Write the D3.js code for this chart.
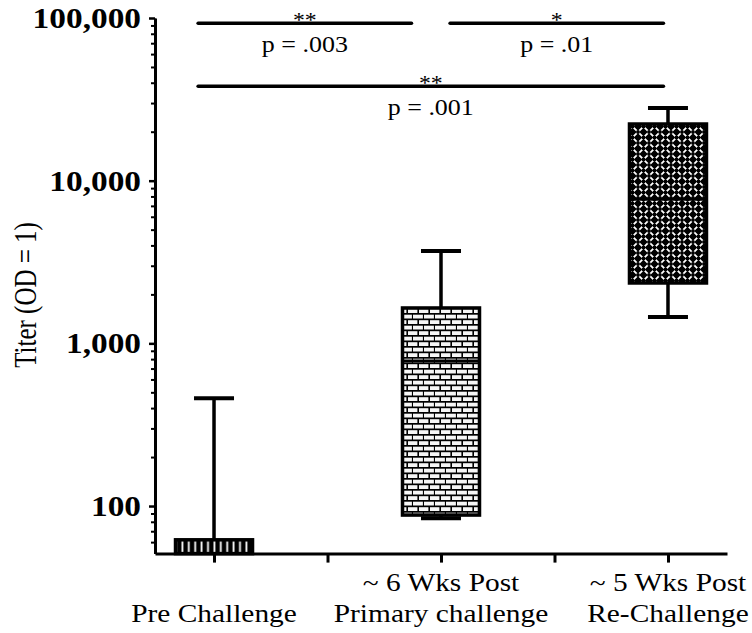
<!DOCTYPE html>
<html lang="en">
<head>
<meta charset="UTF-8">
<title>Titer box plot</title>
<style>
  body { margin: 0; background: #fff; }
  svg { display: block; }
  text { font-family: "Liberation Serif", "Times New Roman", serif; fill: #000; }
</style>
</head>
<body>
<div id="chart"></div>
<script src="https://d3js.org/d3.v7.min.js"></script>
<script>
// groups and box statistics (titer values)
const groupLabels = [["Pre Challenge"], ["~ 6 Wks Post", "Primary challenge"], ["~ 5 Wks Post", "Re-Challenge"]];
const whiskerLow  = [51, 84, 1450];
const q1          = [51, 88, 2350];
const median      = [51, 780, 7700];
const q3          = [62, 1650, 22300];
const whiskerHigh = [460, 3700, 28000];
const fills = ["stripes", "bricks", "lattice"];

const majorTicks = [100, 1000, 10000, 100000];

// significance brackets (x in group index units, y in titer units)
const sigFrom  = [-0.07, 1.04, -0.07];
const sigTo    = [0.87, 1.98, 1.98];
const sigLevel = [93000, 93000, 38000];
const sigStars = ["**", "*", "**"];
const sigP     = ["p = .003", "p = .01", "p = .001"];

const width = 752, height = 633;
const sx = 1.13; // the figure is a bit stretched sideways

const svg = d3.select("#chart").append("svg")
    .attr("width", width)
    .attr("height", height);

const x = d3.scaleLinear().domain([-0.26, 2.26]).range([155, 727]);
const y = d3.scaleLog().domain([51, 100000]).range([553.6, 18]);

// fill patterns
const defs = svg.append("defs");

const p1 = defs.append("pattern").attr("id", "stripes")
    .attr("patternUnits", "userSpaceOnUse").attr("width", 6.4).attr("height", 20);
p1.append("rect").attr("width", 6.4).attr("height", 20).attr("fill", "#000");
p1.append("rect").attr("x", 2.3).attr("width", 1.8).attr("height", 20).attr("fill", "#fff");

const p2 = defs.append("pattern").attr("id", "bricks")
    .attr("patternUnits", "userSpaceOnUse").attr("width", 11).attr("height", 11);
p2.append("rect").attr("width", 11).attr("height", 11).attr("fill", "#000");
[[1, 1.2], [-4.5, 6.7], [6, 6.7]].forEach(([bx, by]) => {
    p2.append("rect").attr("x", bx).attr("y", by).attr("width", 9.4).attr("height", 3.8).attr("fill", "#f6f6f6");
});

const p3 = defs.append("pattern").attr("id", "lattice")
    .attr("patternUnits", "userSpaceOnUse").attr("width", 11).attr("height", 11);
p3.append("rect").attr("width", 11).attr("height", 11).attr("fill", "#000");
p3.append("path").attr("d", "M0,0L11,11M11,0L0,11")
    .attr("stroke", "#fff").attr("stroke-width", 1.8);
[[0, 0], [11, 0], [0, 11], [11, 11], [5.5, 5.5]].forEach(([cx, cy]) => {
    p3.append("circle").attr("cx", cx).attr("cy", cy).attr("r", 1.9).attr("fill", "#000");
});

// y axis: minor ticks then majors with labels
const minorTicks = y.ticks().filter(v => !majorTicks.includes(v));
svg.append("g")
    .attr("transform", `translate(${x.range()[0]},0)`)
    .call(d3.axisLeft(y).tickValues(minorTicks).tickFormat("").tickSize(4).tickSizeOuter(0))
    .call(g => g.selectAll("line").attr("stroke-width", 2));

const yAxis = svg.append("g")
    .attr("transform", `translate(${x.range()[0]},0)`)
    .call(d3.axisLeft(y).tickValues(majorTicks).tickFormat(d3.format(",")).tickSize(6).tickSizeOuter(0));
yAxis.select(".domain").attr("stroke-width", 3);
yAxis.selectAll("line").attr("stroke-width", 2.5);
yAxis.selectAll("text")
    .attr("x", null)
    .attr("dy", "0.33em")
    .attr("transform", `translate(-14,0) scale(1.15,1)`)
    .style("font-family", "'Liberation Serif', serif")
    .style("font-size", "29px")
    .style("font-weight", "bold");

// x axis
const xAxis = svg.append("g")
    .attr("transform", `translate(0,${y.range()[0]})`)
    .call(d3.axisBottom(x).tickValues([0, 0.5, 1, 1.5, 2]).tickFormat("").tickSize(9).tickSizeOuter(0));
xAxis.select(".domain").attr("stroke-width", 3);
xAxis.selectAll("line").attr("stroke-width", 3);

// category labels
groupLabels.forEach((lines, i) => {
    lines.forEach((t, k) => {
        const base = 622 - (lines.length - 1 - k) * 31;
        svg.append("text")
            .attr("transform", `translate(${x(i)},${base}) scale(${sx},1)`)
            .attr("text-anchor", "middle")
            .style("font-size", "26px")
            .text(t);
    });
});

// y title
svg.append("text")
    .attr("transform", "translate(36,295) rotate(-90) scale(1,1.25)")
    .attr("text-anchor", "middle")
    .style("font-size", "25px")
    .text("Titer (OD = 1)");

// boxes
const boxW = 77, capW = 40;
const boxes = svg.append("g");
q1.forEach((_, i) => {
    const cx = x(i);
    const g = boxes.append("g");
    // whiskers
    g.append("line").attr("x1", cx).attr("x2", cx)
        .attr("y1", y(q3[i])).attr("y2", y(whiskerHigh[i]))
        .attr("stroke", "#000").attr("stroke-width", 3.5);
    g.append("line").attr("x1", cx - capW / 2).attr("x2", cx + capW / 2)
        .attr("y1", y(whiskerHigh[i])).attr("y2", y(whiskerHigh[i]))
        .attr("stroke", "#000").attr("stroke-width", 4);
    if (whiskerLow[i] < q1[i]) {
        g.append("line").attr("x1", cx).attr("x2", cx)
            .attr("y1", y(q1[i])).attr("y2", y(whiskerLow[i]))
            .attr("stroke", "#000").attr("stroke-width", 3.5);
        g.append("line").attr("x1", cx - capW / 2).attr("x2", cx + capW / 2)
            .attr("y1", y(whiskerLow[i])).attr("y2", y(whiskerLow[i]))
            .attr("stroke", "#000").attr("stroke-width", 4);
    }
    // box
    g.append("rect")
        .attr("x", cx - boxW / 2)
        .attr("y", y(q3[i]))
        .attr("width", boxW)
        .attr("height", y(q1[i]) - y(q3[i]))
        .attr("fill", `url(#${fills[i]})`)
        .attr("stroke", "#000")
        .attr("stroke-width", 3.5);
    // median
    g.append("line").attr("x1", cx - boxW / 2).attr("x2", cx + boxW / 2)
        .attr("y1", y(median[i])).attr("y2", y(median[i]))
        .attr("stroke", "#000").attr("stroke-width", 3);
});

// significance brackets
sigFrom.forEach((_, i) => {
    const yy = y(sigLevel[i]);
    const mid = (x(sigFrom[i]) + x(sigTo[i])) / 2;
    svg.append("line")
        .attr("x1", x(sigFrom[i])).attr("x2", x(sigTo[i]))
        .attr("y1", yy).attr("y2", yy)
        .attr("stroke", "#000").attr("stroke-width", 3.5)
        .attr("stroke-linecap", "round");
    svg.append("text")
        .attr("transform", `translate(${mid},${yy + 4}) scale(${sx},1)`)
        .attr("text-anchor", "middle")
        .style("font-size", "21px")
        .text(sigStars[i]);
    svg.append("text")
        .attr("transform", `translate(${mid},${yy + 29}) scale(${sx},1)`)
        .attr("text-anchor", "middle")
        .style("font-size", "23px")
        .text(sigP[i]);
});
</script>
</body>
</html>
